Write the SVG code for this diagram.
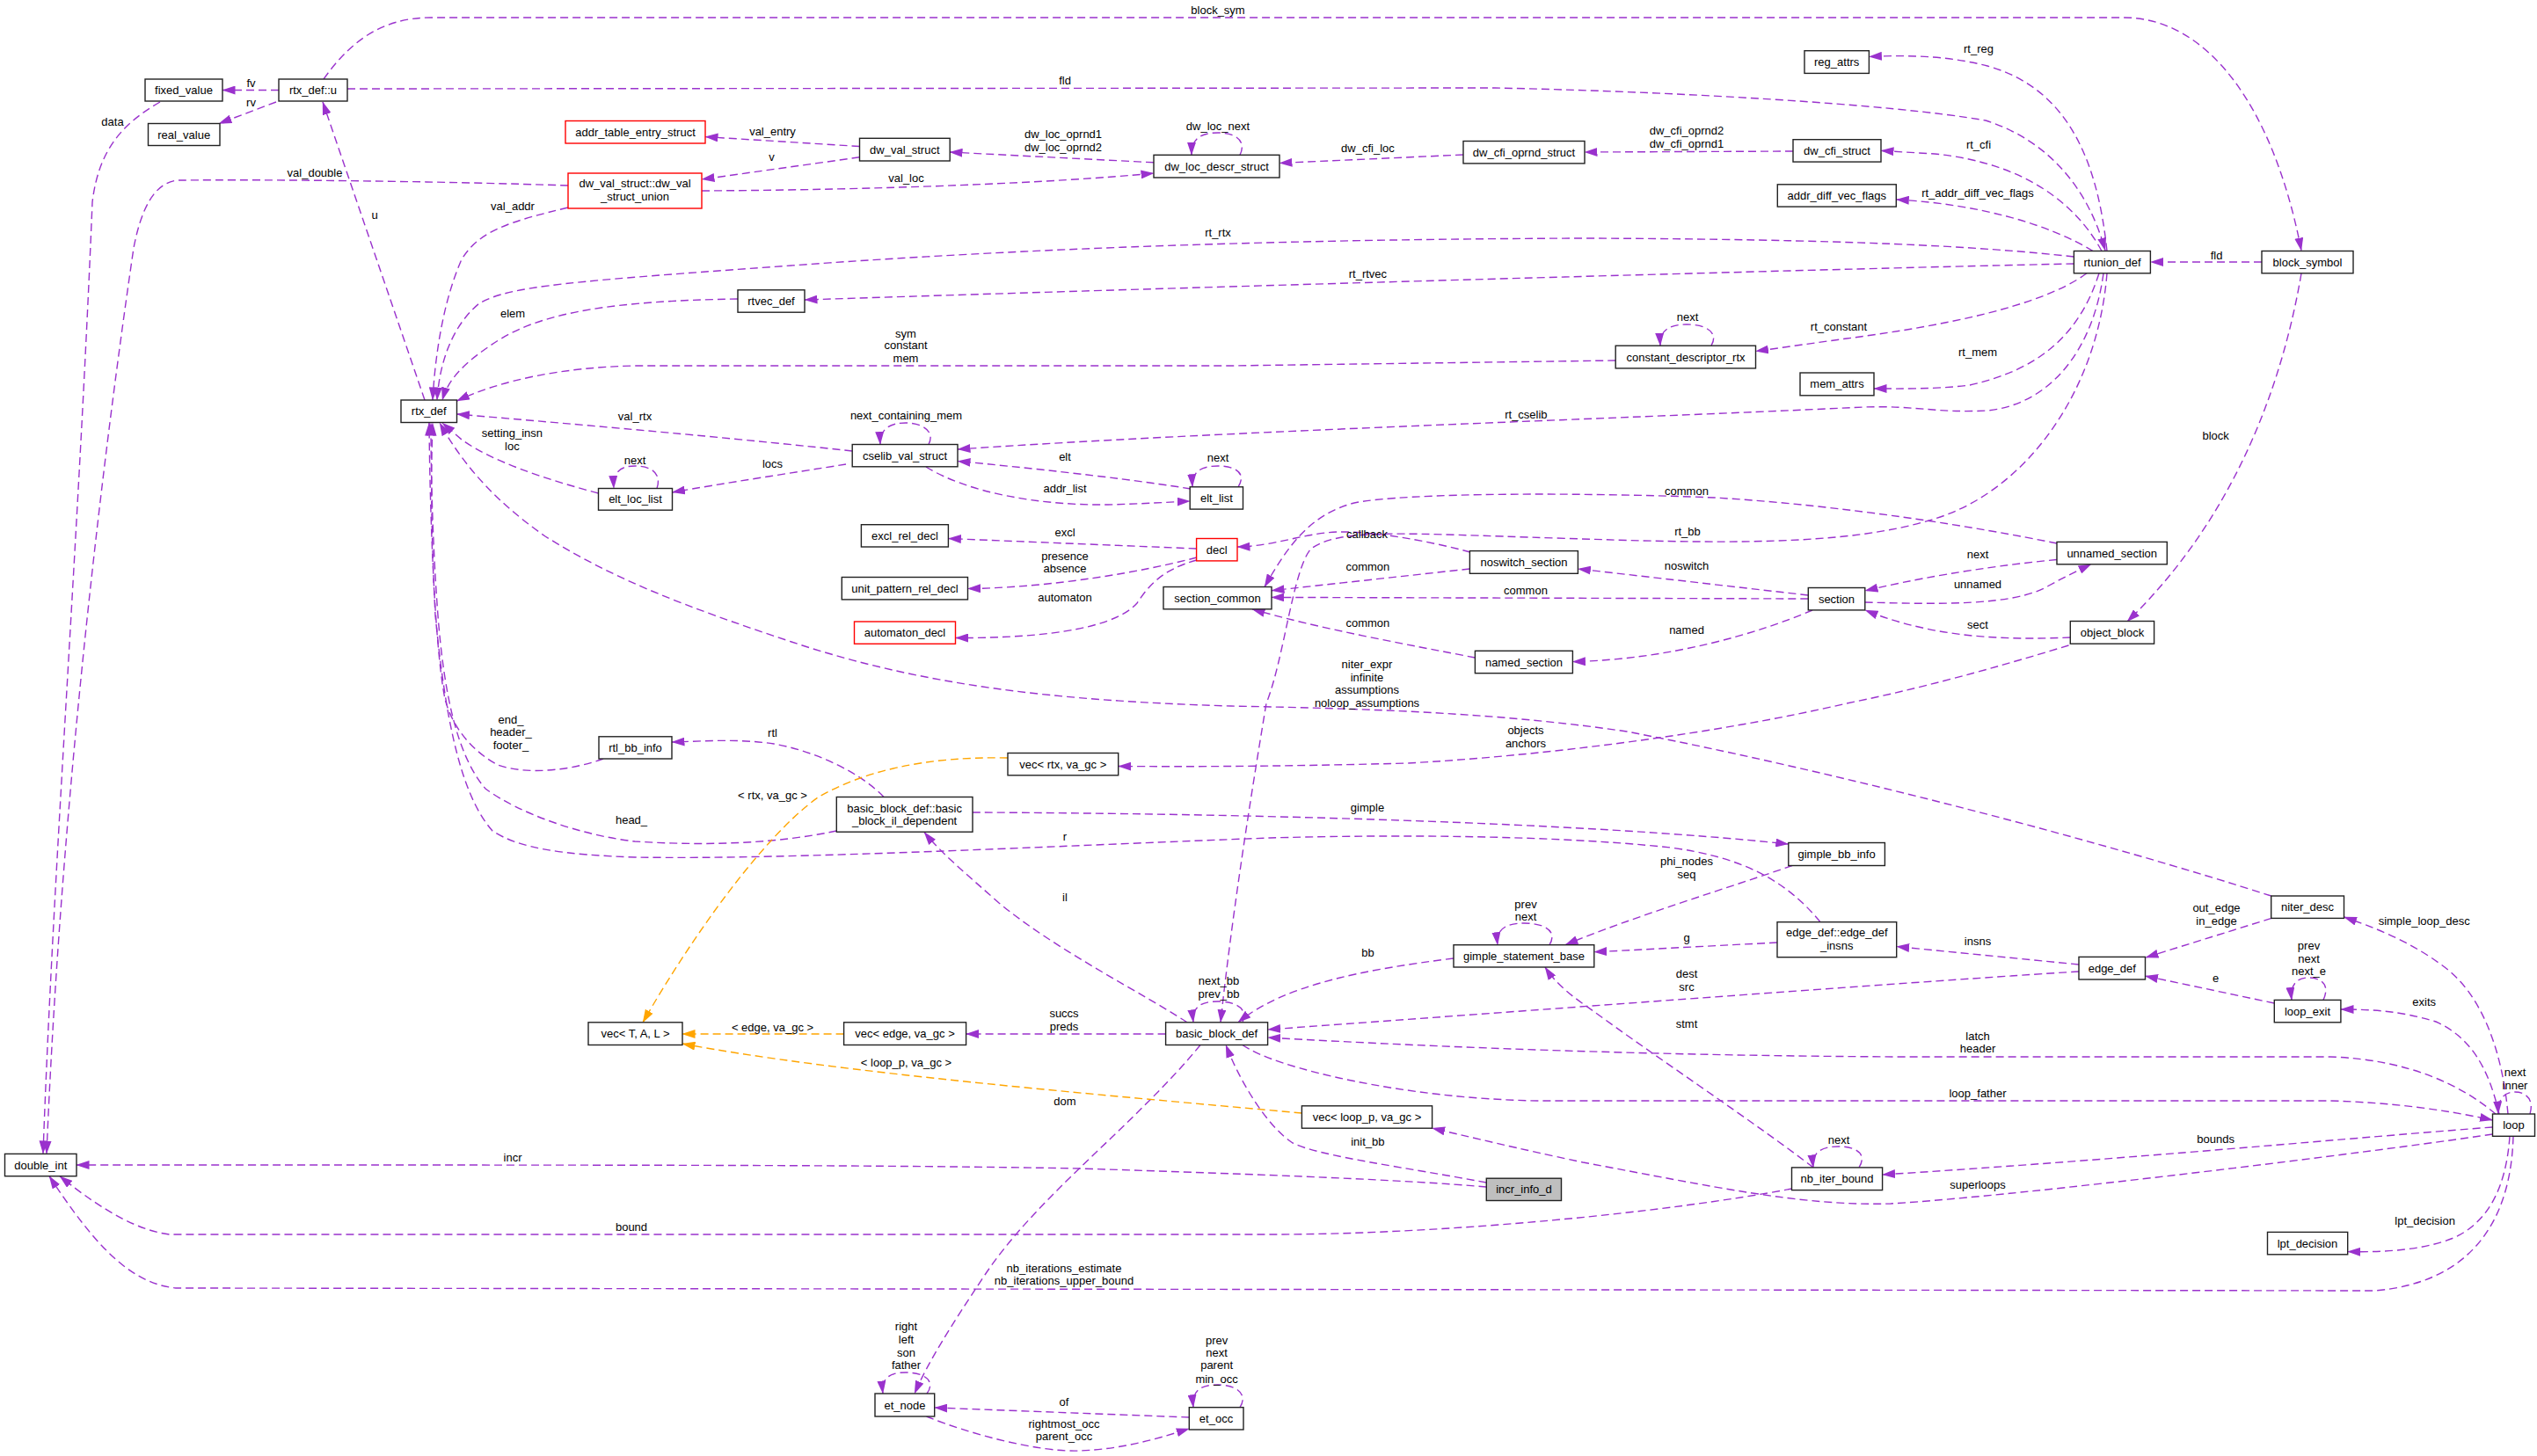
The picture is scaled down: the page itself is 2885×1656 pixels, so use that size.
<svg xmlns="http://www.w3.org/2000/svg" width="2885" height="1656" viewBox="0 0 2885 1656">
<defs>
<style>
.n{fill:#fff;stroke:#222;stroke-width:1.4}
.r{fill:#fff;stroke:#ff0000;stroke-width:1.4}
.g{fill:#bfbfbf;stroke:#222;stroke-width:1.4}
text{font-family:"Liberation Sans",Arial,sans-serif;font-size:13px;fill:#000;text-anchor:middle}
.e{fill:none;stroke:#9a32cd;stroke-width:1.4;stroke-dasharray:9,5}
.o{fill:none;stroke:#ffa500;stroke-width:1.4;stroke-dasharray:9,5}
</style>
<marker id="ap" markerWidth="15" markerHeight="10" refX="14.5" refY="5" orient="auto" markerUnits="userSpaceOnUse"><path d="M0,0 L15,5 L0,10 z" fill="#9a32cd"/></marker>
<marker id="ao" markerWidth="15" markerHeight="10" refX="14.5" refY="5" orient="auto" markerUnits="userSpaceOnUse"><path d="M0,0 L15,5 L0,10 z" fill="#ffa500"/></marker>
</defs>
<rect x="0" y="0" width="2885" height="1656" fill="#fff"/>
<g id="connectors">
<g marker-end="url(#ap)">
<path class="e" d="M368,90 C395,52 430,20 490,20 L2415,20 C2510,20 2585,120 2617,285"/>
<path class="e" d="M317,102.5 L253,102.5"/>
<path class="e" d="M314,116 L249,140.5"/>
<path class="e" d="M395,101 L1700,100 C1900,104 2150,118 2258,137 C2330,160 2375,215 2394,285"/>
<path class="e" d="M2572,298 L2445.5,298"/>
<path class="e" d="M2617,311 C2595,440 2540,590 2419,707"/>
<path class="e" d="M182,116 C140,140 112,170 105,230 C90,600 60,1000 49,1312"/>
<path class="e" d="M646,211 C500,206 300,204 205,205 C175,205 160,240 152,282 C120,500 70,900 53,1312"/>
<path class="e" d="M483,455 L367,116"/>
<path class="e" d="M646,236 C580,252 545,262 525,295 C505,340 495,400 492,455"/>
<path class="e" d="M977.5,166.5 L802,155.6"/>
<path class="e" d="M977.5,178.8 L798,204"/>
<path class="e" d="M1312,184.8 L1080,173"/>
<path class="e" d="M798,217 C1000,216 1200,208 1312,197"/>
<path class="e" d="M1410,176.3 C1418,160 1405,151 1385,151 C1365,151 1355,158 1355,176.3"/>
<path class="e" d="M1664,176 L1455,185.5"/>
<path class="e" d="M2039,172 L1802,173"/>
<path class="e" d="M2396,285.5 C2385,180 2350,100 2260,75 C2210,62 2160,63 2125.4,64.4"/>
<path class="e" d="M2390,285.5 C2360,230 2300,185 2200,175 L2139,171.4"/>
<path class="e" d="M2380,285.5 C2330,255 2250,232 2156.3,227"/>
<path class="e" d="M2358.4,292 C2250,280 2100,272 1800,271 C1500,272 1200,280 900,302 C650,320 580,325 545,345 C515,370 500,410 497,455"/>
<path class="e" d="M2358.4,300 C2200,303 1500,322 915,341"/>
<path class="e" d="M839,340 C700,342 620,355 570,385 C530,410 510,430 503,455"/>
<path class="e" d="M1837.2,410 L1400,416 L720,416 C640,418 570,432 519.5,456"/>
<path class="e" d="M1946,393.2 C1955,378 1940,369 1918,369 C1898,369 1887,376 1888,393.2"/>
<path class="e" d="M2373,310.8 C2320,350 2200,372 2100,385 L1996.5,399.5"/>
<path class="e" d="M2387,310.8 C2365,380 2320,420 2240,438 C2200,443 2160,442 2131,442"/>
<path class="e" d="M2392,310.8 C2380,400 2330,460 2260,467 C2200,470 2180,461 2120,463 C1800,478 1400,490 1089,511"/>
<path class="e" d="M2396,310.8 C2385,450 2300,560 2200,590 C2100,622 1950,618 1770,612 C1600,607 1520,600 1490,625 C1470,650 1460,750 1440,800 C1420,920 1400,1050 1388,1162.8"/>
<path class="e" d="M1672,628 C1620,614 1560,604 1520,605 C1480,607 1450,621 1407,622"/>
<path class="e" d="M1360.6,624 L1078.4,612.5"/>
<path class="e" d="M1361,634 C1300,650 1200,668 1100.5,669.6"/>
<path class="e" d="M1361,637 C1320,648 1305,668 1293,686 C1270,712 1200,726 1086.6,725.5"/>
<path class="e" d="M969.2,513 C850,500 720,488 519.5,471"/>
<path class="e" d="M1056,505.5 C1064,490 1048,481 1030,481 C1012,481 1000,488 1001,505.5"/>
<path class="e" d="M962,528 C900,538 820,550 764.5,560"/>
<path class="e" d="M1354,556 C1300,547 1200,535 1089,524.5"/>
<path class="e" d="M1053,531 C1100,560 1180,575 1260,574 C1300,573 1330,571 1353.2,570"/>
<path class="e" d="M1408,553.8 C1418,538 1405,530 1385,530 C1365,530 1355,537 1356,553.8"/>
<path class="e" d="M747,555.5 C753,538 740,530 722,530 C705,530 697,537 698,555.5"/>
<path class="e" d="M680.5,561 C620,545 560,525 525,500 L503,481"/>
<path class="e" d="M2582.7,1019 C2400,960 2100,880 1850,832 C1700,810 1550,806 1400,803 C1200,797 1050,780 900,730 C780,690 700,660 620,610 C570,575 530,535 500,481"/>
<path class="e" d="M686,863 C650,876 600,882 566,870 C540,856 515,830 506,795 C495,740 489,600 488,481"/>
<path class="e" d="M951.3,945 C880,960 800,962 722,957 C660,950 590,925 552,897 C520,860 505,790 498,700 C492,620 490,540 490,481"/>
<path class="e" d="M2070,1048.7 C2030,1000 1980,975 1900,964 C1750,948 1550,950 1444,953 C1200,962 900,978 722,975 C640,972 590,965 560,945 C520,900 505,800 495,700 C490,600 490,540 492,481"/>
<path class="e" d="M1005,906.5 C980,880 930,855 880,846 C840,840 800,843 764,844"/>
<path class="e" d="M1106,924 C1400,925 1800,935 2033.8,960"/>
<path class="e" d="M1350,1162.8 C1300,1130 1200,1080 1136,1027 C1100,995 1070,970 1051,946.5"/>
<path class="e" d="M2038,984.5 C1980,1005 1850,1045 1780,1074.7"/>
<path class="e" d="M2021,1072 L1812.8,1082.8"/>
<path class="e" d="M1762,1074.7 C1772,1058 1755,1050 1733,1050 C1712,1050 1701,1057 1703,1074.7"/>
<path class="e" d="M1653,1090 C1550,1103 1460,1120 1408,1162.8"/>
<path class="e" d="M2364,1097 L2156.7,1076.5"/>
<path class="e" d="M2583,1044.4 L2440,1089"/>
<path class="e" d="M2852,1267 C2845,1190 2820,1130 2780,1100 C2740,1070 2700,1055 2665.5,1043"/>
<path class="e" d="M2364,1105 C2200,1115 1800,1145 1441.6,1171"/>
<path class="e" d="M2586.3,1141 L2439.5,1110"/>
<path class="e" d="M2642,1137.4 C2650,1120 2640,1112 2625,1112 C2612,1112 2604,1120 2606,1137.4"/>
<path class="e" d="M2842,1267 C2830,1215 2810,1180 2770,1162 C2730,1150 2700,1148 2662,1148"/>
<path class="e" d="M2877,1267 C2882,1250 2872,1242 2860,1242 C2848,1242 2840,1250 2841,1267"/>
<path class="e" d="M2838,1267 C2800,1235 2740,1205 2650,1202 L2166,1202 C1900,1201 1650,1192 1441.6,1180"/>
<path class="e" d="M1413,1188.5 C1450,1215 1600,1250 1750,1252 L2650,1252 C2720,1254 2780,1262 2834.5,1274"/>
<path class="e" d="M2834.5,1282 C2700,1292 2400,1320 2140.6,1336"/>
<path class="e" d="M2834.5,1290 C2700,1310 2300,1360 2150,1369 C2050,1372 1950,1350 1800,1322 C1720,1305 1680,1295 1628.6,1283.2"/>
<path class="e" d="M2854,1292.3 C2850,1350 2830,1390 2790,1408 C2750,1424 2700,1424 2669.7,1423.6"/>
<path class="e" d="M2858,1292.3 C2855,1400 2800,1460 2700,1468 L200,1465 C150,1460 110,1420 56,1337.7"/>
<path class="e" d="M2037.5,1352 C1900,1378 1650,1404 1444,1404 L193,1404 C160,1400 120,1380 68,1337.7"/>
<path class="e" d="M1690.3,1350 C1600,1342 1444,1336 1228,1329 C1000,1325 800,1325 87,1325"/>
<path class="e" d="M1690.3,1345 C1600,1328 1500,1315 1470,1300 C1440,1280 1410,1230 1394,1188.5"/>
<path class="e" d="M2062,1327.9 C2000,1280 1880,1200 1812,1150 C1790,1135 1770,1120 1757,1100"/>
<path class="e" d="M2114,1327.9 C2124,1312 2110,1304 2091,1304 C2072,1304 2060,1310 2062,1327.9"/>
<path class="e" d="M1325.6,1176 L1098.6,1176"/>
<path class="e" d="M2352.5,734 C2300,750 2200,780 2100,800 C1950,835 1750,860 1600,868 C1450,872 1350,872 1271.7,871.5"/>
<path class="e" d="M2354.3,725 C2280,728 2200,726 2121,694"/>
<path class="e" d="M2339,636.5 C2250,645 2170,660 2121,672"/>
<path class="e" d="M2120.8,685 C2200,687 2290,690 2330,666 C2350,655 2365,648 2378,641.8"/>
<path class="e" d="M2056.3,677 L1794.4,647"/>
<path class="e" d="M2056.3,681 L1446,679.4"/>
<path class="e" d="M2061,694 C2000,720 1900,750 1788.4,752.6"/>
<path class="e" d="M1671.4,647 L1446,671.7"/>
<path class="e" d="M1677.4,748 C1600,733 1500,715 1424,692.8"/>
<path class="e" d="M2339,618 C2250,600 2100,575 1950,566 C1800,560 1600,560 1540,572 C1490,585 1465,620 1438,667.5"/>
<path class="e" d="M1365,1188.5 C1290,1280 1180,1360 1120,1450 C1080,1510 1055,1550 1040,1585"/>
<path class="e" d="M1054,1585 C1065,1570 1050,1561 1030,1561 C1012,1561 1002,1567 1004,1585"/>
<path class="e" d="M1352.3,1612 L1062.7,1601"/>
<path class="e" d="M1053.5,1611 C1100,1630 1180,1652 1228,1650 C1280,1648 1320,1635 1352.3,1625"/>
<path class="e" d="M1410,1600.7 C1420,1585 1405,1575 1385,1575 C1365,1575 1355,1582 1357,1600.7"/>
<path class="e" d="M1413,1162.8 C1420,1147 1405,1139 1385,1139 C1365,1139 1355,1146 1357,1162.8"/>
</g>
<g marker-end="url(#ao)">
<path class="o" d="M959.6,1176 L776,1176"/>
<path class="o" d="M1480.4,1266 C1250,1245 950,1220 776,1187"/>
<path class="o" d="M1146,862 C1050,860 980,878 930,907 C870,950 790,1060 731,1162.8"/>
</g>
<g id="edge-labels">
<text x="1385" y="16">block_sym</text>
<text x="285.5" y="98.8">fv</text>
<text x="285.5" y="120.5">rv</text>
<text x="128" y="142.8">data</text>
<text x="1211" y="96">fld</text>
<text x="358" y="200.9">val_double</text>
<text x="426" y="249.1">u</text>
<text x="583" y="239.3">val_addr</text>
<text x="878.5" y="153.5">val_entry</text>
<text x="877.6" y="183.3">v</text>
<text x="1209" y="156.9">dw_loc_oprnd1</text>
<text x="1209" y="172">dw_loc_oprnd2</text>
<text x="1030.5" y="206.9">val_loc</text>
<text x="1385" y="148.1">dw_loc_next</text>
<text x="1555.4" y="173.1">dw_cfi_loc</text>
<text x="1918" y="153">dw_cfi_oprnd2</text>
<text x="1918" y="168.2">dw_cfi_oprnd1</text>
<text x="2250" y="60.1">rt_reg</text>
<text x="2250" y="168.9">rt_cfi</text>
<text x="2249" y="223.8">rt_addr_diff_vec_flags</text>
<text x="1385" y="269.2">rt_rtx</text>
<text x="1555.4" y="316">rt_rtvec</text>
<text x="583" y="361.1">elem</text>
<text x="1030" y="383.5">sym</text>
<text x="1030" y="397">constant</text>
<text x="1030" y="412.1">mem</text>
<text x="1919" y="365.3">next</text>
<text x="2091" y="375.5">rt_constant</text>
<text x="2249" y="405">rt_mem</text>
<text x="1735.4" y="476.2">rt_cselib</text>
<text x="2520.5" y="294.9">fld</text>
<text x="2519.6" y="499.5">block</text>
<text x="722" y="477.5">val_rtx</text>
<text x="1030.5" y="477.2">next_containing_mem</text>
<text x="878.5" y="531.5">locs</text>
<text x="1211" y="523.5">elt</text>
<text x="1211" y="560">addr_list</text>
<text x="1385" y="524.5">next</text>
<text x="722" y="527.5">next</text>
<text x="582.4" y="497.3">setting_insn</text>
<text x="582.4" y="511.5">loc</text>
<text x="1211" y="609.5">excl</text>
<text x="1211" y="636.5">presence</text>
<text x="1211" y="650.5">absence</text>
<text x="1211" y="683.9">automaton</text>
<text x="1918" y="562.5">common</text>
<text x="1554.5" y="612.1">callback</text>
<text x="1919" y="609.3">rt_bb</text>
<text x="1555.4" y="648.5">common</text>
<text x="1918" y="648">noswitch</text>
<text x="1735" y="676.2">common</text>
<text x="1555.4" y="713.1">common</text>
<text x="1918" y="720.9">named</text>
<text x="2249" y="635">next</text>
<text x="2249" y="669.1">unnamed</text>
<text x="2249" y="714.9">sect</text>
<text x="1554.5" y="760">niter_expr</text>
<text x="1554.5" y="774.7">infinite</text>
<text x="1554.5" y="789.2">assumptions</text>
<text x="1554.5" y="803.9">noloop_assumptions</text>
<text x="1735" y="835.3">objects</text>
<text x="1735" y="849.5">anchors</text>
<text x="581" y="823.3">end_</text>
<text x="581" y="837.4">header_</text>
<text x="581" y="852.2">footer_</text>
<text x="878.5" y="838.1">rtl</text>
<text x="878.5" y="908.5">&lt; rtx, va_gc &gt;</text>
<text x="718" y="936.5">head_</text>
<text x="1555" y="923.3">gimple</text>
<text x="1211" y="956">r</text>
<text x="1211" y="1024.5">il</text>
<text x="1918" y="984.2">phi_nodes</text>
<text x="1918" y="999.3">seq</text>
<text x="1735" y="1032.5">prev</text>
<text x="1735" y="1046.8">next</text>
<text x="1918" y="1070.5">g</text>
<text x="1555.4" y="1088">bb</text>
<text x="2249" y="1074.5">insns</text>
<text x="2520.5" y="1037">out_edge</text>
<text x="2520.5" y="1051.7">in_edge</text>
<text x="2756.7" y="1051.5">simple_loop_desc</text>
<text x="2625.5" y="1080.2">prev</text>
<text x="2625.5" y="1095">next</text>
<text x="2625.5" y="1109">next_e</text>
<text x="1918" y="1112">dest</text>
<text x="1918" y="1127.2">src</text>
<text x="2519.6" y="1117.3">e</text>
<text x="2756.7" y="1143.5">exits</text>
<text x="1386" y="1120.1">next_bb</text>
<text x="1386" y="1134.9">prev_bb</text>
<text x="1210" y="1157.1">succs</text>
<text x="1210" y="1171.9">preds</text>
<text x="878.5" y="1172.5">&lt; edge, va_gc &gt;</text>
<text x="1918" y="1169">stmt</text>
<text x="2249" y="1183.1">latch</text>
<text x="2249" y="1197.2">header</text>
<text x="2860" y="1224">next</text>
<text x="2860" y="1238.5">inner</text>
<text x="1030.5" y="1213">&lt; loop_p, va_gc &gt;</text>
<text x="2249" y="1248.2">loop_father</text>
<text x="1211" y="1257">dom</text>
<text x="2519.6" y="1300.3">bounds</text>
<text x="2091" y="1300.5">next</text>
<text x="1555.4" y="1302.5">init_bb</text>
<text x="583" y="1320.5">incr</text>
<text x="2249" y="1351.5">superloops</text>
<text x="2757.6" y="1392.9">lpt_decision</text>
<text x="718" y="1399.9">bound</text>
<text x="1210" y="1446.5">nb_iterations_estimate</text>
<text x="1210" y="1460.5">nb_iterations_upper_bound</text>
<text x="1030.5" y="1513.3">right</text>
<text x="1030.5" y="1527.5">left</text>
<text x="1030.5" y="1543.2">son</text>
<text x="1030.5" y="1557.3">father</text>
<text x="1383.6" y="1528.5">prev</text>
<text x="1383.6" y="1543.2">next</text>
<text x="1383.6" y="1557.3">parent</text>
<text x="1383.6" y="1572.5">min_occ</text>
<text x="1210" y="1598.8">of</text>
<text x="1210" y="1623.5">rightmost_occ</text>
<text x="1210" y="1637.5">parent_occ</text>
</g>
</g>
<g id="nodes">
<g id="n-fixed_value"><rect class="n" x="165" y="90" width="88" height="25"/><text x="209" y="107">fixed_value</text></g>
<g id="n-rtx_def_u"><rect class="n" x="317" y="90" width="78" height="25"/><text x="356" y="107">rtx_def::u</text></g>
<g id="n-real_value"><rect class="n" x="168.5" y="140.5" width="81.5" height="25"/><text x="209.2" y="157.5">real_value</text></g>
<g id="n-addr_table_entry_struct"><rect class="r" x="643" y="137.5" width="159" height="25.5"/><text x="722.5" y="154.7">addr_table_entry_struct</text></g>
<g id="n-dw_val_struct_union"><rect class="r" x="646" y="197" width="152" height="40"/><text x="722" y="213.2">dw_val_struct::dw_val</text><text x="722" y="228.4">_struct_union</text></g>
<g id="n-dw_val_struct"><rect class="n" x="977.5" y="157.3" width="102.7" height="25.7"/><text x="1028.8" y="174.6">dw_val_struct</text></g>
<g id="n-dw_loc_descr_struct"><rect class="n" x="1312" y="176.3" width="143" height="25.7"/><text x="1383.5" y="193.6">dw_loc_descr_struct</text></g>
<g id="n-dw_cfi_oprnd_struct"><rect class="n" x="1664" y="160.5" width="138" height="25.4"/><text x="1733" y="177.7">dw_cfi_oprnd_struct</text></g>
<g id="n-dw_cfi_struct"><rect class="n" x="2039" y="158.7" width="100" height="25.4"/><text x="2089" y="175.9">dw_cfi_struct</text></g>
<g id="n-reg_attrs"><rect class="n" x="2052" y="57.7" width="73.4" height="25.7"/><text x="2088.7" y="75">reg_attrs</text></g>
<g id="n-addr_diff_vec_flags"><rect class="n" x="2021.3" y="209.8" width="135" height="25.3"/><text x="2088.8" y="227">addr_diff_vec_flags</text></g>
<g id="n-rtunion_def"><rect class="n" x="2358.4" y="285.5" width="87" height="25.3"/><text x="2402" y="302.6">rtunion_def</text></g>
<g id="n-block_symbol"><rect class="n" x="2572" y="285.5" width="104" height="25.3"/><text x="2624" y="302.6">block_symbol</text></g>
<g id="n-rtvec_def"><rect class="n" x="839" y="329.8" width="76" height="25.4"/><text x="877" y="347">rtvec_def</text></g>
<g id="n-constant_descriptor_rtx"><rect class="n" x="1837.2" y="393.2" width="159.3" height="25.7"/><text x="1917" y="410.5">constant_descriptor_rtx</text></g>
<g id="n-mem_attrs"><rect class="n" x="2047" y="424" width="84" height="25.8"/><text x="2089" y="441.4">mem_attrs</text></g>
<g id="n-rtx_def"><rect class="n" x="456" y="455" width="63.5" height="25.5"/><text x="487.7" y="472.2">rtx_def</text></g>
<g id="n-cselib_val_struct"><rect class="n" x="969.2" y="505.5" width="119.8" height="25.3"/><text x="1029" y="522.6">cselib_val_struct</text></g>
<g id="n-elt_loc_list"><rect class="n" x="680.5" y="555.5" width="84" height="24.7"/><text x="722.5" y="572.4">elt_loc_list</text></g>
<g id="n-elt_list"><rect class="n" x="1353.2" y="553.8" width="60.3" height="25.3"/><text x="1383.4" y="571">elt_list</text></g>
<g id="n-excl_rel_decl"><rect class="n" x="979.4" y="596.7" width="99" height="25.3"/><text x="1029" y="613.8">excl_rel_decl</text></g>
<g id="n-decl"><rect class="r" x="1360.6" y="612.5" width="46.4" height="25.4"/><text x="1383.8" y="629.7">decl</text></g>
<g id="n-unit_pattern_rel_decl"><rect class="n" x="957.3" y="656.5" width="143.2" height="25.4"/><text x="1029" y="673.7">unit_pattern_rel_decl</text></g>
<g id="n-section_common"><rect class="n" x="1323" y="667.5" width="123" height="25.3"/><text x="1384.5" y="684.6">section_common</text></g>
<g id="n-automaton_decl"><rect class="r" x="971.5" y="707" width="115" height="25.3"/><text x="1029" y="724.1">automaton_decl</text></g>
<g id="n-noswitch_section"><rect class="n" x="1671.4" y="626.6" width="123" height="25.7"/><text x="1733" y="644">noswitch_section</text></g>
<g id="n-section"><rect class="n" x="2056.3" y="668.5" width="64.5" height="25.4"/><text x="2088.5" y="685.7">section</text></g>
<g id="n-named_section"><rect class="n" x="1677.4" y="740.3" width="111" height="25.4"/><text x="1733" y="757.5">named_section</text></g>
<g id="n-unnamed_section"><rect class="n" x="2339" y="616.4" width="125.3" height="25.4"/><text x="2401.7" y="633.6">unnamed_section</text></g>
<g id="n-object_block"><rect class="n" x="2354.3" y="706.5" width="95.3" height="25.7"/><text x="2402" y="723.8">object_block</text></g>
<g id="n-rtl_bb_info"><rect class="n" x="681" y="837.8" width="83" height="25.2"/><text x="722.5" y="854.9">rtl_bb_info</text></g>
<g id="n-vec_rtx"><rect class="n" x="1146" y="856.5" width="125.7" height="25.3"/><text x="1208.8" y="873.6">vec&lt; rtx, va_gc &gt;</text></g>
<g id="n-bb_il_dependent"><rect class="n" x="951.3" y="906.5" width="154.7" height="39.7"/><text x="1028.6" y="923.5">basic_block_def::basic</text><text x="1028.6" y="937.7">_block_il_dependent</text></g>
<g id="n-gimple_bb_info"><rect class="n" x="2033.8" y="958.5" width="109.6" height="26"/><text x="2088.6" y="976">gimple_bb_info</text></g>
<g id="n-edge_def_insns"><rect class="n" x="2021" y="1048.7" width="135.7" height="40"/><text x="2088.8" y="1065.1">edge_def::edge_def</text><text x="2088.8" y="1080.3">_insns</text></g>
<g id="n-gimple_statement_base"><rect class="n" x="1653" y="1074.7" width="159.8" height="25.3"/><text x="1733" y="1091.8">gimple_statement_base</text></g>
<g id="n-niter_desc"><rect class="n" x="2582.7" y="1019" width="82.8" height="25.4"/><text x="2624" y="1036.2">niter_desc</text></g>
<g id="n-edge_def"><rect class="n" x="2364" y="1088.4" width="75.5" height="25.6"/><text x="2401.8" y="1105.7">edge_def</text></g>
<g id="n-loop_exit"><rect class="n" x="2586.3" y="1137.4" width="75.6" height="25.4"/><text x="2624" y="1154.6">loop_exit</text></g>
<g id="n-vec_T_A_L"><rect class="n" x="669" y="1162.8" width="107" height="25.7"/><text x="722.5" y="1180.2">vec&lt; T, A, L &gt;</text></g>
<g id="n-vec_edge"><rect class="n" x="959.6" y="1162.8" width="139" height="25.7"/><text x="1029" y="1180.2">vec&lt; edge, va_gc &gt;</text></g>
<g id="n-basic_block_def"><rect class="n" x="1325.6" y="1162.8" width="116" height="25.7"/><text x="1383.6" y="1180.2">basic_block_def</text></g>
<g id="n-loop"><rect class="n" x="2834.5" y="1267" width="48" height="25.3"/><text x="2858.5" y="1284.1">loop</text></g>
<g id="n-vec_loop_p"><rect class="n" x="1480.4" y="1257.8" width="148.2" height="25.4"/><text x="1554.5" y="1275">vec&lt; loop_p, va_gc &gt;</text></g>
<g id="n-incr_info_d"><rect class="g" x="1690.3" y="1340.2" width="85.2" height="25.3"/><text x="1733" y="1357.3">incr_info_d</text></g>
<g id="n-nb_iter_bound"><rect class="n" x="2037.5" y="1327.9" width="103.1" height="25.7"/><text x="2089" y="1345.2">nb_iter_bound</text></g>
<g id="n-lpt_decision"><rect class="n" x="2578.5" y="1401.4" width="91.2" height="25.4"/><text x="2624" y="1418.6">lpt_decision</text></g>
<g id="n-double_int"><rect class="n" x="5.5" y="1312.4" width="81.5" height="25.3"/><text x="46.3" y="1329.5">double_int</text></g>
<g id="n-et_node"><rect class="n" x="995" y="1585" width="67.7" height="26"/><text x="1029" y="1602.5">et_node</text></g>
<g id="n-et_occ"><rect class="n" x="1352.3" y="1600.7" width="61.7" height="25.3"/><text x="1383" y="1617.9">et_occ</text></g>
</g>
</svg>
